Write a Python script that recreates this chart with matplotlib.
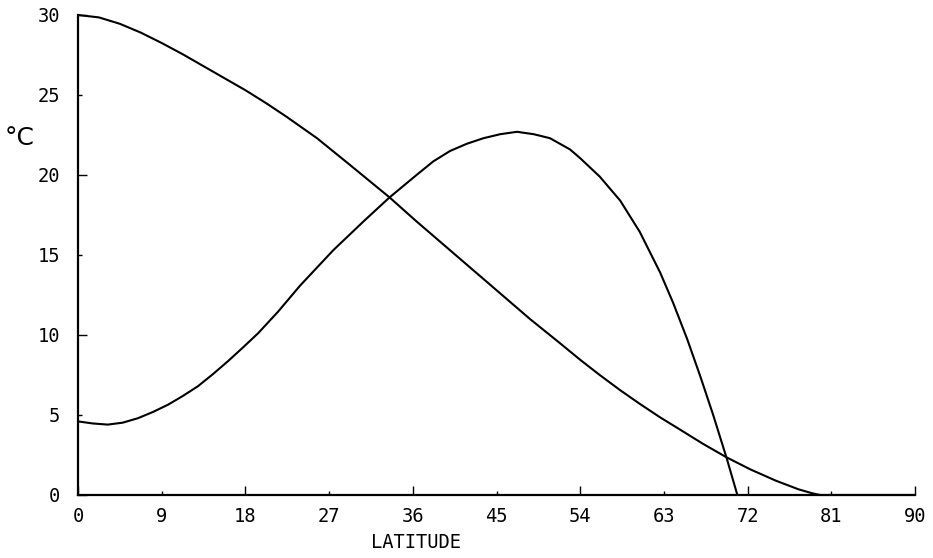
import matplotlib
matplotlib.use("Agg")
import matplotlib.pyplot as plt

# ---- data ----
lat_a = [0, 2.25, 4.5, 6.75, 9, 11.25, 13.5, 15.75, 18, 20.2, 22.4, 25.7, 29.2,
         33.5, 36.4, 40.0, 43.6, 46.1, 48.6, 51.8, 54.0, 56.1, 58.3, 60.4, 62.6,
         64.7, 67.2, 69.75, 72.3, 75.1, 77.5, 79.0, 79.8, 81, 90]
temp_a = [30.0, 29.85, 29.45, 28.9, 28.25, 27.55, 26.8, 26.05, 25.3, 24.5, 23.65,
          22.3, 20.65, 18.6, 17.1, 15.3, 13.5, 12.25, 11.0, 9.5, 8.45, 7.5, 6.55,
          5.7, 4.85, 4.1, 3.2, 2.35, 1.6, 0.88, 0.35, 0.1, 0.0, 0.0, 0.0]

lat_b = [0, 1.6, 3.2, 4.8, 6.45, 8.1, 9.7, 11.3, 12.9, 14.5, 16.1, 17.7, 19.35,
         21.5, 23.9, 27.45, 30.7, 33.5, 36.4, 38.2, 40.0, 41.8, 43.6, 45.4, 47.2,
         49.0, 50.75, 52.9, 54.0, 56.1, 58.3, 60.4, 62.6, 64.0, 65.5, 66.9, 68.3,
         69.75, 70.9]
temp_b = [4.6, 4.47, 4.4, 4.52, 4.8, 5.2, 5.65, 6.2, 6.8, 7.55, 8.35, 9.2, 10.1,
          11.45, 13.1, 15.3, 17.1, 18.6, 20.0, 20.85, 21.5, 21.95, 22.3, 22.55,
          22.7, 22.55, 22.3, 21.6, 21.05, 19.9, 18.4, 16.45, 13.9, 12.0, 9.75,
          7.44, 5.0, 2.3, 0.0]

x_ticks = [0, 9, 18, 27, 36, 45, 54, 63, 72, 81, 90]
y_ticks = [0, 5, 10, 15, 20, 25, 30]

W, H = 933, 558
fig = plt.figure(figsize=(W / 100, H / 100), dpi=100)
ax = fig.add_axes([78 / W, 63 / H, 837 / W, 480 / H])

ax.plot(lat_a, temp_a, color="black", lw=1.5, solid_capstyle="round",
        solid_joinstyle="round", clip_on=False)
ax.plot(lat_b, temp_b, color="black", lw=1.5, solid_capstyle="round",
        solid_joinstyle="round", clip_on=False)

ax.set_xlim(0, 90)
ax.set_ylim(0, 30)
for s in ("top", "right"):
    ax.spines[s].set_visible(False)
for s in ("left", "bottom"):
    ax.spines[s].set_linewidth(1.6)

mono = "DejaVu Sans Mono"
xmaj = [t for t in x_ticks if t % 18 == 0]
xmin = [t for t in x_ticks if t % 18 != 0]
ymaj = [t for t in y_ticks if t % 10 == 0]
ymin = [t for t in y_ticks if t % 10 != 0]
ax.set_xticks(xmaj, labels=[str(t) for t in xmaj])
ax.set_xticks(xmin, labels=[str(t) for t in xmin], minor=True)
ax.set_yticks(ymaj, labels=[str(t) for t in ymaj])
ax.set_yticks(ymin, labels=[str(t) for t in ymin], minor=True)

ax.tick_params(axis="x", which="major", direction="in", length=6.5, width=1, pad=9)
ax.tick_params(axis="x", which="minor", direction="in", length=3, width=1, pad=9)
ax.tick_params(axis="y", which="major", direction="in", length=6.5, width=1, pad=13)
ax.tick_params(axis="y", which="minor", direction="in", length=3, width=1, pad=13)
for lab in ax.get_xticklabels(which="both") + ax.get_yticklabels(which="both"):
    lab.set_fontfamily(mono)
    lab.set_fontsize(13.5)

fig.text(5 / W, 1 - 138 / H, "°C", fontsize=18, family="DejaVu Sans",
         ha="left", va="center")
fig.text(416 / W, 1 - 543 / H, "LATITUDE", fontsize=13.5, family=mono,
         ha="center", va="center")

fig.savefig("out.png", dpi=100)
